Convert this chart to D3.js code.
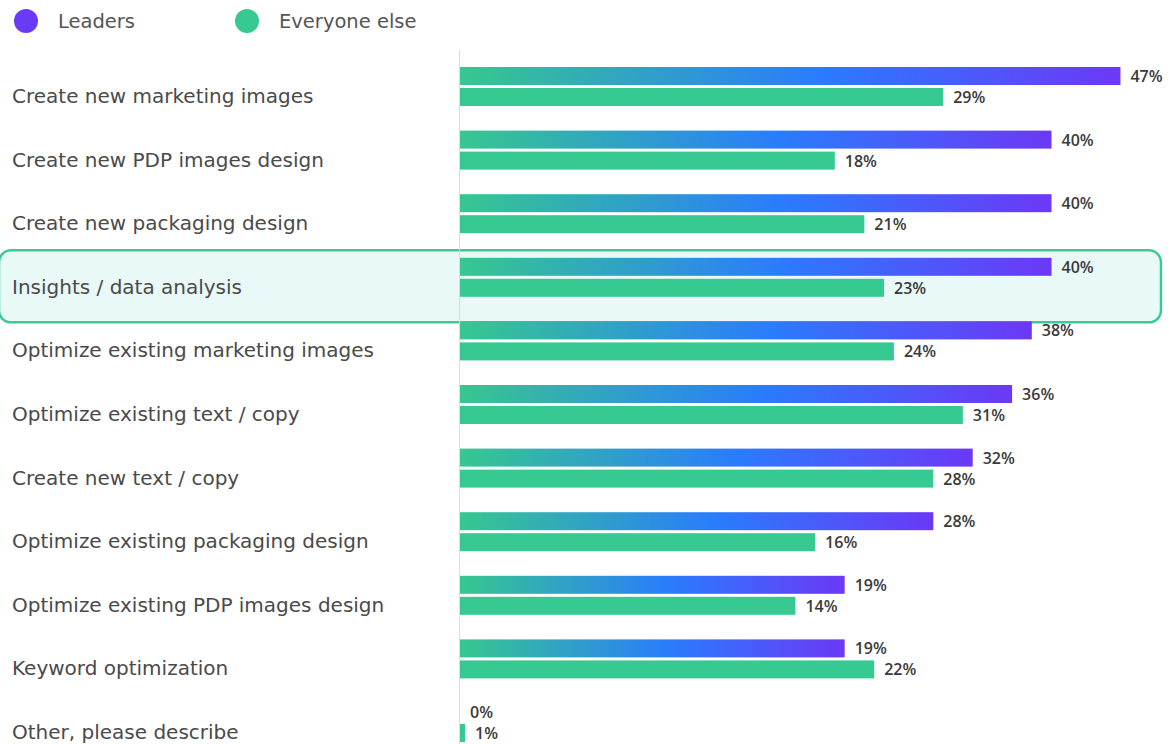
<html>
<head>
<style>
  body { margin: 0; background: #fff; }
  text { font-family: "DejaVu Sans", sans-serif; }
  .val { font-family: "Open Sans", sans-serif; }
</style>
</head>
<body>
<div id="chart"></div>
<script src="https://d3js.org/d3.v7.min.js"></script>
<script>
var categories = [
  "Create new marketing images",
  "Create new PDP images design",
  "Create new packaging design",
  "Insights / data analysis",
  "Optimize existing marketing images",
  "Optimize existing text / copy",
  "Create new text / copy",
  "Optimize existing packaging design",
  "Optimize existing PDP images design",
  "Keyword optimization",
  "Other, please describe"
];
var leaders = [47, 40, 40, 40, 38, 36, 32, 28, 19, 19, 0];
var everyone = [29, 18, 21, 23, 24, 31, 28, 16, 14, 22, 1];
var seriesNames = ["Leaders", "Everyone else"];
var highlighted = "Insights / data analysis";

var W = 1172, H = 744;
var svg = d3.select("#chart").append("svg")
  .attr("width", W).attr("height", H);

var x0 = 460;
// bar length scale (small values get a short bar)
var x = d3.scaleLinear()
  .domain([0, 1, 10, 50])
  .range([x0, x0 + 5, x0 + 296, x0 + 690]);

var y = d3.scaleBand()
  .domain(categories)
  .range([54.7, 54.7 + 63.6 * categories.length]);

var barH = 18, gap = 3;

var defs = svg.append("defs");
var grad = defs.append("linearGradient").attr("id", "leadGrad")
  .attr("x1", "0%").attr("x2", "100%").attr("y1", "0%").attr("y2", "0%");
grad.append("stop").attr("offset", "0%").attr("stop-color", "#37c78f");
grad.append("stop").attr("offset", "55%").attr("stop-color", "#2a7bfe");
grad.append("stop").attr("offset", "100%").attr("stop-color", "#6c38f6");

// highlight box
var hy = y(highlighted) + y.bandwidth() / 2 + 9;
svg.append("rect")
  .attr("x", -1).attr("y", hy - 36)
  .attr("width", 1162).attr("height", 72)
  .attr("rx", 12)
  .attr("fill", "#e9f9f8")
  .attr("stroke", "#3cc99a")
  .attr("stroke-width", 2.5);

// axis line
svg.append("line")
  .attr("x1", x0 - 0.5).attr("x2", x0 - 0.5)
  .attr("y1", 50).attr("y2", H)
  .attr("stroke", "#dcdcdc").attr("stroke-width", 1);

// legend
var legend = svg.append("g");
var legX = [26, 247];
var legCol = ["#6b3af6", "#37c992"];
seriesNames.forEach(function(n, i) {
  legend.append("circle").attr("cx", legX[i]).attr("cy", 21).attr("r", 12).attr("fill", legCol[i]);
  legend.append("text").attr("x", legX[i] + 32).attr("y", 21)
    .attr("dominant-baseline", "central")
    .attr("font-size", 19.5).attr("fill", "#555")
    .text(n);
});

// category labels
svg.append("g").selectAll("text")
  .data(categories).enter().append("text")
  .attr("x", 12)
  .attr("y", function(d) { return y(d) + y.bandwidth() / 2 + 9.5; })
  .attr("dominant-baseline", "central")
  .attr("font-size", 20).attr("fill", "#4a4a4a")
  .text(function(d) { return d; });

function rowTop(i) { return y(categories[i]) + y.bandwidth() / 2 - barH - gap / 2; }

// leaders bars
svg.append("g").selectAll("rect")
  .data(leaders).enter().append("rect")
  .attr("x", x0)
  .attr("y", function(d, i) { return rowTop(i); })
  .attr("width", function(d) { return x(d) - x0; })
  .attr("height", barH)
  .attr("fill", "url(#leadGrad)");

// everyone else bars
svg.append("g").selectAll("rect")
  .data(everyone).enter().append("rect")
  .attr("x", x0)
  .attr("y", function(d, i) { return rowTop(i) + barH + gap; })
  .attr("width", function(d) { return x(d) - x0; })
  .attr("height", barH)
  .attr("fill", "#37c992");

// value labels
svg.append("g").selectAll("text")
  .data(leaders).enter().append("text")
  .attr("class", "val")
  .attr("x", function(d) { return x(d) + 10; })
  .attr("y", function(d, i) { return rowTop(i) + barH / 2; })
  .attr("dominant-baseline", "central")
  .attr("font-size", 16).attr("font-weight", 600).attr("fill", "#3a3a3a")
  .text(function(d) { return d + "%"; });

svg.append("g").selectAll("text")
  .data(everyone).enter().append("text")
  .attr("class", "val")
  .attr("x", function(d) { return x(d) + 10; })
  .attr("y", function(d, i) { return rowTop(i) + barH + gap + barH / 2; })
  .attr("dominant-baseline", "central")
  .attr("font-size", 16).attr("font-weight", 600).attr("fill", "#3a3a3a")
  .text(function(d) { return d + "%"; });
</script>
</body>
</html>
